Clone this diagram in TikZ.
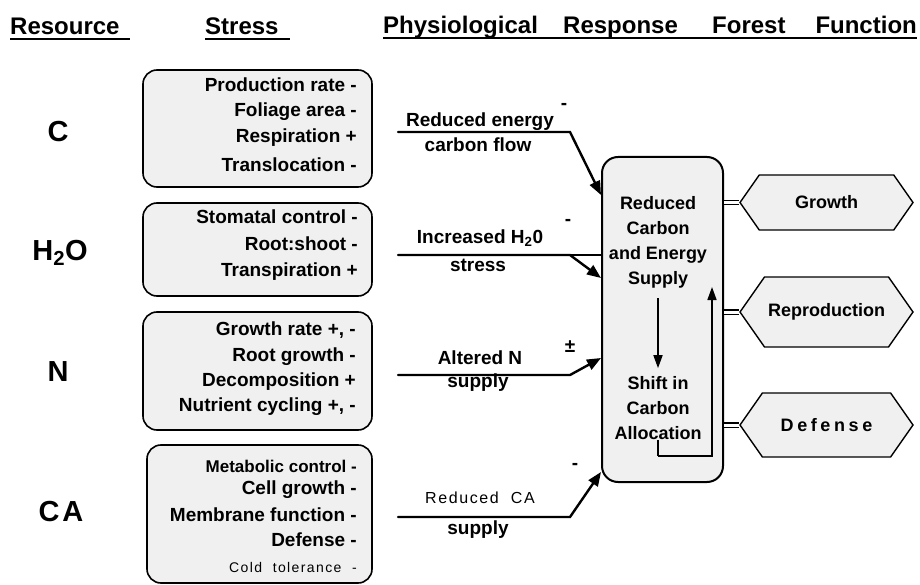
\documentclass[tikz,border=0pt]{standalone}
\usepackage{fontspec}
\setmainfont{Liberation Sans}
\newfontfamily\spacedfont{Liberation Sans}[LetterSpace=10]
\usetikzlibrary{arrows.meta, positioning, shapes.symbols, calc}
\newcommand{\bodyfont}{\fontsize{19}{25}\selectfont\bfseries}

\begin{document}
\begin{tikzpicture}[
  x=1pt, y=-1pt,
  font=\bodyfont,
  stressbox/.style={draw, rectangle, rounded corners=14pt, line width=1.6pt,
                    fill=black!6, minimum width=229pt},
  respbox/.style={draw, rectangle, rounded corners=16pt, line width=2pt,
                  fill=black!6, minimum width=121pt, minimum height=325pt},
  func/.style={draw, signal, signal to=west and east, signal pointer angle=110,
               line width=1.4pt, fill=black!6, minimum width=173pt, inner sep=0pt,
               font=\fontsize{18}{25}\selectfont\bfseries},
  item/.style={anchor=east, inner sep=0pt},
  res/.style={font=\fontsize{29}{30}\selectfont\bfseries},
  hd/.style={font=\fontsize{24}{26}\selectfont\bfseries, anchor=base west, inner sep=0pt},
  uline/.style={line width=2pt},
  arr/.style={-{Triangle[length=14pt,width=11pt]}, line width=2.4pt},
  tip/.style={-{Triangle[length=13pt,width=9pt]}, line width=1.6pt},
  dbl/.style={double, double distance=3pt, line width=1.1pt}
]
\useasboundingbox (0,0) rectangle (920,585);

% Column heads
\node[hd] (hRes) at (10,35) {Resource};
\node[hd] (hStr) at (205,35) {Stress};
\node[hd] (hPhy) at (383,34) {Physiological};
\node[hd] (hRsp) at (563,34) {Response};
\node[hd] (hFor) at (712,34) {Forest};
\node[hd, anchor=base east] (hFun) at (917,34) {Function};
\draw[uline] ($(hRes.base west)+(0,4)$) -- ++(120,0);
\draw[uline] ($(hStr.base west)+(0,4)$) -- ++(85,0);
\draw[uline] ($(hPhy.base west)+(0,4)$) -- ($(hFun.base east)+(0,4)$);

% Resources
\node[res] (rC) at (58,132) {C};
\node[res] (rW) at (60,253) {H\textsubscript{2}O};
\node[res] (rN) at (58,372) {N};
\node[res] (rA) at (61,512) {\spacedfont\bfseries CA};

% Stress boxes
\node[stressbox, minimum height=117pt] (sC) at (257.5,128.5) {};
\node[stressbox, minimum height=93pt] (sW) at (257.5,249.5) {};
\node[stressbox, minimum height=118pt] (sN) at (257.5,371) {};
\node[stressbox, minimum height=138pt, minimum width=225pt] (sA) at (259.5,514) {};

\foreach \t/\y [count=\i] in {Production rate -/85, Foliage area -/112,
                              Respiration +/138, Translocation -/165}
  \node[item] (c\i) at (357,\y) {\t};
\foreach \t/\y [count=\i] in {Stomatal control -/217, Root:shoot -/244,
                              Transpiration +/272}
  \node[item] (w\i) at (358,\y) {\t};
\foreach \t/\y [count=\i] in {{Growth rate +, -}/330, Root growth -/357,
                              Decomposition +/382, {Nutrient cycling +, -}/407}
  \node[item] (n\i) at (356,\y) {\t};
\node[item, font=\fontsize{17}{18}\selectfont\bfseries] (a1) at (357,466) {Metabolic control -};
\foreach \t/\y [count=\i from 2] in {Cell growth -/490, Membrane function -/515,
                                     Defense -/540}
  \node[item] (a\i) at (357,\y) {\t};
\node[item, font=\fontsize{14}{16}\selectfont\spacedfont] (a5) at (357,567) {Cold \ tolerance \ -};

% Physiological response
\node[respbox] (resp) at (662.5,319.5) {};
\node[align=center, inner sep=0pt, font=\fontsize{18}{25}\selectfont\bfseries] (supply) at (658,242)
  {Reduced\\Carbon\\and Energy\\Supply};
\node[align=center, inner sep=0pt, font=\fontsize{18}{25}\selectfont\bfseries] (alloc) at (658,408)
  {Shift in\\Carbon\\Allocation};
\draw[tip] ($(supply.south)+(0,10)$) -- ($(alloc.north)+(0,-8)$);
\coordinate (loopTop) at (712,287);
\draw[line width=1.6pt] (alloc.south) -- ++(0,16) coordinate (lb);
\draw[tip] (lb) -| (loopTop);

% Stress signals
\foreach \n/\ys/\ye in {C/132/195, W/255/278, N/375/358, A/517/472}{
  \coordinate (a\n) at (398,\ys);
  \coordinate (b\n) at (570,\ys);
  \coordinate (e\n) at (0,\ye);
  \draw[arr, line cap=round] (a\n) -- (b\n) -- (resp.west |- e\n);
}
\draw[line width=1.2pt] (bW) -- (resp.west |- bW);

\node (tC1) at (480,122) {Reduced energy};
\node (tC2) at (478,145) {carbon flow};
\node (tW1) at (480,238) {Increased H\textsubscript{2}0};
\node (tW2) at (478,265) {stress};
\node (tN1) at (480,358) {Altered N};
\node (tN2) at (478,383) {supply};
\node[font=\fontsize{16}{18}\selectfont\spacedfont] (tA1) at (480,498) {Reduced \ CA};
\node (tA2) at (478,530) {supply};

\node (sgC) at (564,106) {-};
\node (sgW) at (568,222) {-};
\node (sgN) at (570,347) {±};
\node (sgA) at (575,466) {-};

% Forest function
\node[func, minimum height=55pt] (grow) at (826.5,202.5) {Growth};
\node[func, minimum height=70pt] (repr) at (826.5,312) {Reproduction};
\node[func, minimum height=64pt] (dfn) at (826.5,425) {\spacedfont\bfseries\addfontfeature{LetterSpace=20}Defense};
\foreach \f in {grow, repr, dfn}
  \draw[dbl] (resp.east |- \f) -- (\f.west);

\end{tikzpicture}
\end{document}
